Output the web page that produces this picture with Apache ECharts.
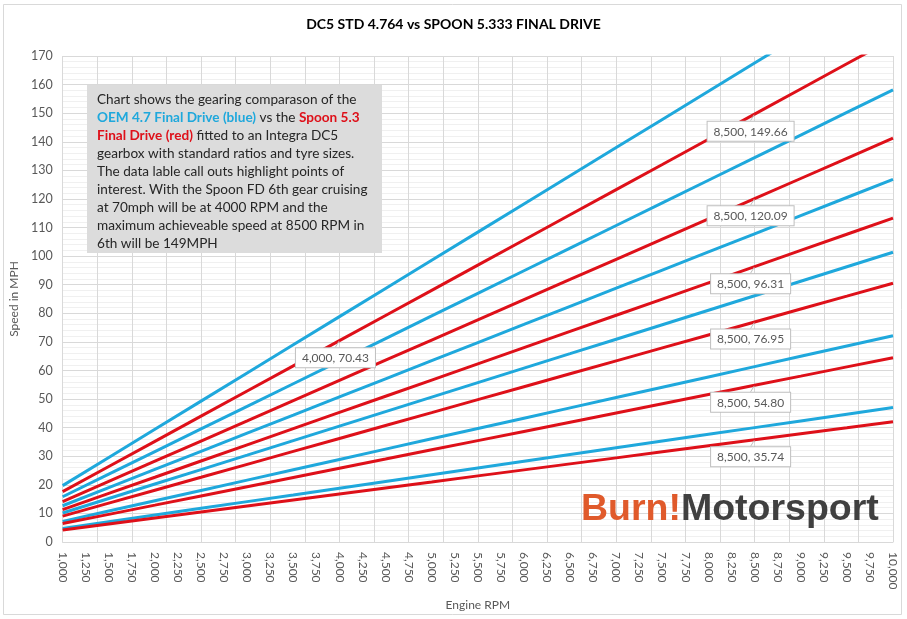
<!DOCTYPE html>
<html>
<head>
<meta charset="utf-8">
<script src="https://cdn.jsdelivr.net/npm/echarts@6/dist/echarts.min.js"></script>
<style>
  html, body { margin: 0; padding: 0; background: #fff; }
  #chart { width: 907px; height: 619px; }
</style>
</head>
<body>
<div id="chart"></div>
<script>
  // engine rpm for each point
  const rpm = [1000, 1500, 2000, 2500, 3000, 3500, 4000, 4500, 5000, 5500, 6000, 6500, 7000, 7500, 8000, 8500, 9000, 9500, 10000]

  // OEM 4.764 final drive (blue), gears 1-6
  const oem1 = [4.71, 7.06, 9.41, 11.77, 14.12, 16.47, 18.83, 21.18, 23.53, 25.89, 28.24, 30.59, 32.95, 35.30, 37.66, 40.01, 42.36, 44.72, 47.07]
  const oem2 = [7.22, 10.83, 14.43, 18.04, 21.65, 25.26, 28.87, 32.48, 36.09, 39.69, 43.30, 46.91, 50.52, 54.13, 57.74, 61.35, 64.95, 68.56, 72.17]
  const oem3 = [10.13, 15.20, 20.27, 25.34, 30.40, 35.47, 40.54, 45.60, 50.67, 55.74, 60.81, 65.87, 70.94, 76.01, 81.07, 86.14, 91.21, 96.27, 101.34]
  const oem4 = [12.68, 19.03, 25.37, 31.71, 38.05, 44.39, 50.74, 57.08, 63.42, 69.76, 76.10, 82.45, 88.79, 95.13, 101.47, 107.81, 114.15, 120.50, 126.84]
  const oem5 = [15.82, 23.72, 31.63, 39.54, 47.45, 55.35, 63.26, 71.17, 79.08, 86.99, 94.89, 102.80, 110.71, 118.62, 126.53, 134.43, 142.34, 150.25, 158.16]
  const oem6 = [19.71, 29.56, 39.42, 49.27, 59.13, 68.98, 78.84, 88.69, 98.55, 108.40, 118.26, 128.11, 137.97, 147.82, 157.68, 167.53, 177.39, 187.24, 197.10]

  // Spoon 5.333 final drive (red), gears 1-6
  const spoon1 = [4.20, 6.31, 8.41, 10.51, 12.61, 14.72, 16.82, 18.92, 21.02, 23.13, 25.23, 27.33, 29.43, 31.54, 33.64, 35.74, 37.84, 39.94, 42.05]
  const spoon2 = [6.45, 9.67, 12.89, 16.12, 19.34, 22.56, 25.79, 29.01, 32.24, 35.46, 38.68, 41.91, 45.13, 48.35, 51.58, 54.80, 58.02, 61.25, 64.47]
  const spoon3 = [9.05, 13.58, 18.11, 22.63, 27.16, 31.69, 36.21, 40.74, 45.26, 49.79, 54.32, 58.84, 63.37, 67.90, 72.42, 76.95, 81.48, 86.00, 90.53]
  const spoon4 = [11.33, 17.00, 22.66, 28.33, 33.99, 39.66, 45.32, 50.99, 56.65, 62.32, 67.98, 73.65, 79.31, 84.98, 90.64, 96.31, 101.98, 107.64, 113.31]
  const spoon5 = [14.13, 21.19, 28.26, 35.32, 42.38, 49.45, 56.51, 63.58, 70.64, 77.71, 84.77, 91.83, 98.90, 105.96, 113.03, 120.09, 127.15, 134.22, 141.28]
  const spoon6 = [17.61, 26.41, 35.21, 44.02, 52.82, 61.62, 70.43, 79.23, 88.04, 96.84, 105.64, 114.45, 123.25, 132.05, 140.86, 149.66, 158.46, 167.27, 176.07]

  // data label call outs: [series, rpm]
  const callouts = [['spoon6', 4000], ['spoon6', 8500], ['spoon5', 8500], ['spoon4', 8500], ['spoon3', 8500], ['spoon2', 8500], ['spoon1', 8500]]

  const BLUE = '#1fa8dc'
  const RED = '#de1019'
  const FONT = 'Lato'

  const fmtNum = (n) => String(n).replace(/\B(?=(\d{3})+(?!\d))/g, ',')

  const makeSeries = (name, values, color) => {
    const data = values.map((v, i) => {
      const hit = callouts.some((c) => c[0] === name && c[1] === rpm[i])
      if (!hit) return [rpm[i], v]
      return {
        value: [rpm[i], v],
        symbol: 'circle',
        symbolSize: 1,
        label: {
          show: true,
          position: 'bottom',
          distance: 7,
          formatter: fmtNum(rpm[i]) + ', ' + v.toFixed(2),
          backgroundColor: '#fff',
          borderColor: '#bfbfbf',
          borderWidth: 1,
          padding: [4, 6, 3, 6],
          color: '#595959',
          fontFamily: FONT,
          fontSize: 12
        },
        labelLine: { show: true, lineStyle: { color: '#bfbfbf', width: 1 } }
      }
    })
    return {
      name: name,
      type: 'line',
      data: data,
      symbol: 'none',
      showSymbol: true,
      lineStyle: { color: color, width: 3 },
      itemStyle: { color: color },
      labelLayout: { dx: -4 },
      clip: true
    }
  }

  const chart = echarts.init(document.getElementById('chart'))

  const option = {
    animation: false,
    backgroundColor: '#fff',
    title: {
      text: 'DC5 STD 4.764 vs SPOON 5.333 FINAL DRIVE',
      left: 'center',
      top: 12,
      textStyle: { fontFamily: FONT, fontSize: 14, fontWeight: 'bold', color: '#000' }
    },
    grid: { left: 50, right: 14, top: 56, bottom: 77 },
    xAxis: [
      {
        type: 'value',
        min: 1000,
        max: 10000,
        interval: 250,
        name: 'Engine RPM',
        nameLocation: 'middle',
        nameGap: 57,
        nameTextStyle: { fontFamily: FONT, fontSize: 12, color: '#595959' },
        axisLine: { show: true, lineStyle: { color: '#d9d9d9' } },
        axisTick: { show: false },
        splitLine: { show: false },
        axisLabel: {
          rotate: -90,
          margin: 10,
          color: '#595959',
          fontFamily: FONT,
          fontSize: 12,
          formatter: (v) => fmtNum(v)
        }
      },
      {
        // vertical gridlines only
        type: 'value',
        min: 1000,
        max: 10000,
        interval: 375,
        position: 'bottom',
        axisLine: { show: false },
        axisTick: { show: false },
        axisLabel: { show: false },
        splitLine: { show: true, lineStyle: { color: '#d9d9d9' } }
      }
    ],
    yAxis: {
      type: 'value',
      min: 0,
      max: 170,
      interval: 10,
      name: 'Speed in MPH',
      nameLocation: 'middle',
      nameGap: 35,
      nameTextStyle: { fontFamily: FONT, fontSize: 12, color: '#595959' },
      axisLine: { show: false },
      axisTick: { show: false },
      axisLabel: { color: '#595959', fontFamily: FONT, fontSize: 12.5, margin: 10 },
      splitLine: { lineStyle: { color: '#d9d9d9' } },
      minorTick: { show: false, splitNumber: 5 },
      minorSplitLine: { show: true, lineStyle: { color: '#f0f0f0' } }
    },
    graphic: [
      {
        type: 'rect',
        shape: { x: 3.5, y: 4.5, width: 898, height: 610 },
        style: { fill: 'none', stroke: '#d9d9d9', lineWidth: 1 },
        silent: true,
        z: -10
      },
      {
        type: 'rect',
        shape: { x: 87, y: 85, width: 295, height: 168 },
        style: { fill: '#dcdcdc' },
        z: 10
      },
      {
        type: 'text',
        x: 97,
        y: 91,
        z: 11,
        style: {
          text: [
            'Chart shows the gearing comparason of the',
            '{b|OEM 4.7 Final Drive (blue)} vs the {r|Spoon 5.3}',
            '{r|Final Drive (red)} fitted to an Integra DC5',
            'gearbox with standard ratios and tyre sizes.',
            'The data lable call outs highlight points of',
            'interest. With the Spoon FD 6th gear cruising',
            'at 70mph will be at 4000 RPM and the',
            'maximum achieveable speed at 8500 RPM in',
            '6th will be 149MPH'
          ].join('\n'),
          fill: '#262626',
          font: '13.6px Lato',
          lineHeight: 18,
          rich: {
            b: { fill: BLUE, fontWeight: 'bold', fontFamily: FONT, fontSize: 13.6, lineHeight: 18 },
            r: { fill: RED, fontWeight: 'bold', fontFamily: FONT, fontSize: 13.6, lineHeight: 18 }
          }
        }
      },
      {
        type: 'text',
        x: 581,
        y: 491,
        z: 11,
        style: {
          text: '{o|Burn!}{g|Motorsport}',
          rich: {
            o: { fill: '#e05a2b', fontFamily: 'Liberation Sans', fontWeight: 'bold', fontSize: 37.5 },
            g: { fill: '#404040', fontFamily: 'Liberation Sans', fontWeight: 'bold', fontSize: 37.5 }
          }
        }
      }
    ],
    series: [
      makeSeries('oem1', oem1, BLUE),
      makeSeries('spoon1', spoon1, RED),
      makeSeries('oem2', oem2, BLUE),
      makeSeries('spoon2', spoon2, RED),
      makeSeries('oem3', oem3, BLUE),
      makeSeries('spoon3', spoon3, RED),
      makeSeries('oem4', oem4, BLUE),
      makeSeries('spoon4', spoon4, RED),
      makeSeries('oem5', oem5, BLUE),
      makeSeries('spoon5', spoon5, RED),
      makeSeries('oem6', oem6, BLUE),
      makeSeries('spoon6', spoon6, RED)
    ]
  }

  chart.setOption(option)

  window.addEventListener('resize', () => chart.resize())
</script>
</body>
</html>
